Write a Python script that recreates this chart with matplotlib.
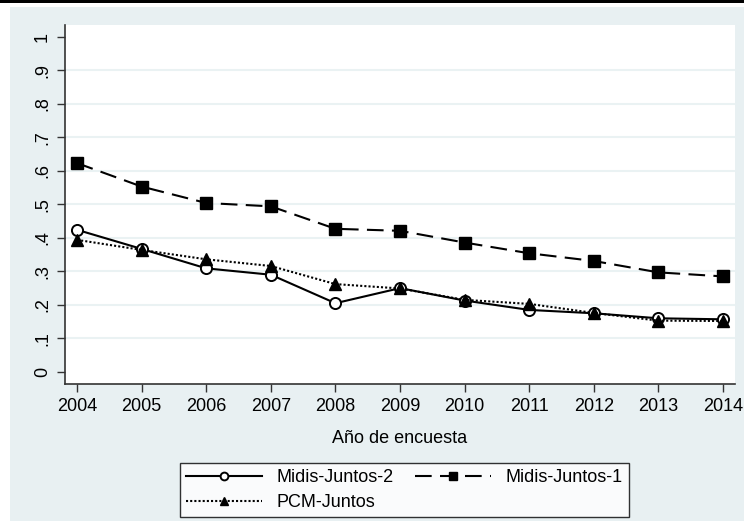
import matplotlib.pyplot as plt
from matplotlib.patches import Rectangle

plt.rcParams['font.family'] = ['Liberation Sans', 'DejaVu Sans']

# share of households per survey year
years = [2004, 2005, 2006, 2007, 2008, 2009, 2010, 2011, 2012, 2013, 2014]
midis_juntos_2 = [0.424, 0.367, 0.309, 0.290, 0.205, 0.250, 0.213, 0.185, 0.175, 0.160, 0.157]
midis_juntos_1 = [0.623, 0.553, 0.504, 0.494, 0.427, 0.421, 0.386, 0.354, 0.331, 0.297, 0.285]
pcm_juntos = [0.394, 0.364, 0.336, 0.316, 0.262, 0.249, 0.215, 0.203, 0.176, 0.153, 0.152]

yticks = [i / 10 for i in range(11)]
ytick_labels = ['0', '.1', '.2', '.3', '.4', '.5', '.6', '.7', '.8', '.9', '1']

bg = '#E8F0F2'
W, H = 744, 521

fig = plt.figure(figsize=(W / 100, H / 100), dpi=100)
fig.patch.set_facecolor('white')
fig.add_artist(Rectangle((10 / W, 0), 1 - 10 / W, 1 - 7 / H, transform=fig.transFigure,
                         facecolor=bg, edgecolor='none', zorder=0))
fig.add_artist(Rectangle((0, 1 - 3 / H), 1, 3 / H, transform=fig.transFigure,
                         facecolor='black', edgecolor='none', zorder=0))

ax = fig.add_axes([65 / W, 1 - 384 / H, 670 / W, 359 / H])
ax.set_facecolor('white')

for y in yticks[1:-1]:
    ax.axhline(y, color='#EAF2F3', lw=1.5, zorder=1)

l2, = ax.plot(years, midis_juntos_2, color='black', lw=1.5, ls='-',
              marker='o', ms=8, mfc='white', mec='black', mew=1.4, zorder=3,
              label='Midis-Juntos-2')
l1, = ax.plot(years, midis_juntos_1, color='black', lw=1.5, ls=(0, (8, 4)),
              marker='s', ms=8, mfc='black', mec='black', zorder=3,
              label='Midis-Juntos-1')
l3, = ax.plot(years, pcm_juntos, color='black', lw=1.5, ls=(0, (1, 1)),
              marker='^', ms=9, mfc='black', mec='black', zorder=3,
              label='PCM-Juntos')

ax.set_xlim(2003.814, 2014.186)
ax.set_ylim(-0.036, 1.035)
ax.set_xticks(years)
ax.set_xticklabels([str(y) for y in years], fontsize=13)
ax.set_yticks(yticks)
ax.set_yticklabels(ytick_labels, fontsize=13, rotation=90, va='center')
ax.tick_params(axis='both', direction='out', length=6, width=1, color='#333333', pad=4)

for side in ['top', 'right']:
    ax.spines[side].set_visible(False)
for side in ['left', 'bottom']:
    ax.spines[side].set_color('#333333')
    ax.spines[side].set_linewidth(1.2)

ax.set_xlabel('Año de encuesta', fontsize=13, labelpad=11)

leg = fig.legend(handles=[l2, l3, l1], ncol=2, loc='center',
                 bbox_to_anchor=((177 + 632) / 2 / W, 1 - 490 / H),
                 fontsize=13, frameon=True, fancybox=False, edgecolor='black',
                 handlelength=4.2, markerscale=0.7, borderpad=0.35,
                 labelspacing=0.45, columnspacing=1.2, handletextpad=0.8)
leg.get_frame().set_linewidth(1.0)

fig.savefig('out.png', dpi=100)
